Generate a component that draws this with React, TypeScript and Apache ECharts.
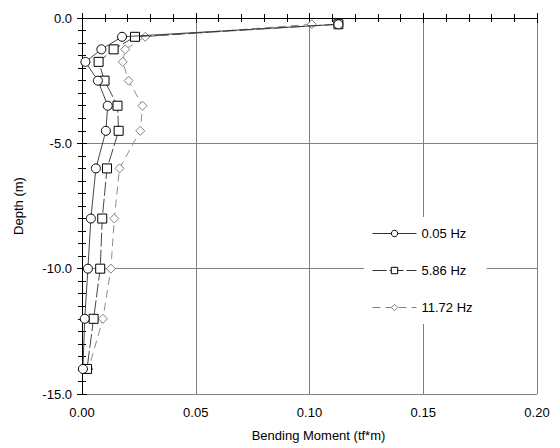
import React, { useEffect, useRef } from "react";
import * as echarts from "echarts";

const depths = [-0.25, -0.75, -1.25, -1.75, -2.5, -3.5, -4.5, -6, -8, -10, -12, -14];
const seriesNames = ["0.05 Hz", "5.86 Hz", "11.72 Hz"];
const moment005 = [0.1127, 0.0176, 0.0085, 0.0015, 0.007, 0.0113, 0.0105, 0.0061, 0.0039, 0.0026, 0.0012, 0.0004];
const moment586 = [0.1127, 0.0233, 0.0139, 0.0073, 0.0099, 0.0156, 0.0161, 0.011, 0.0089, 0.008, 0.0051, 0.0022];
const moment1172 = [0.101, 0.0278, 0.019, 0.0179, 0.0205, 0.0266, 0.0256, 0.0165, 0.0142, 0.0127, 0.0092, 0.0029];

const FONT = "Liberation Sans, Arial, sans-serif";

export default function App() {
  const ref = useRef<HTMLDivElement>(null);
  useEffect(() => {
    if (!ref.current) return;
    const chart = echarts.init(ref.current, null, { renderer: "svg" });
    const pair = (xs: number[]) => xs.map((x, i) => [x, depths[i]]);
    const axisLine = { show: true, lineStyle: { color: "#000", width: 1 } };
    const axisTick = { show: true, inside: true, length: 5, lineStyle: { color: "#000" } };
    const minor = (n: number) => ({ show: true, splitNumber: n, length: -4, lineStyle: { color: "#000" } });
    chart.setOption({
      animation: false,
      backgroundColor: "#fff",
      textStyle: { fontFamily: FONT },
      grid: { left: 82, right: 23, top: 18, bottom: 54, containLabel: false, outerBoundsMode: "none" },
      legend: {
        orient: "vertical",
        left: 364,
        top: 217,
        itemWidth: 44,
        itemHeight: 8,
        itemGap: 24,
        padding: [10, 14, 10, 8],
        backgroundColor: "#fff",
        lineStyle: { width: 1 },
        itemStyle: { borderWidth: 1 },
        textStyle: { fontSize: 13, color: "#000", fontFamily: FONT },
        data: seriesNames,
      },
      xAxis: [
        {
          type: "value",
          min: 0,
          max: 0.2,
          interval: 0.05,
          position: "bottom",
          name: "Bending Moment (tf*m)",
          nameLocation: "middle",
          nameGap: 35,
          nameTextStyle: { fontSize: 13, color: "#000", fontFamily: FONT, padding: [0, 0, 0, 18] },
          axisLabel: { fontSize: 13, color: "#000", margin: 12, formatter: (v: number) => v.toFixed(2) },
          minorTick: minor(5),
          axisLine,
          axisTick,
          splitLine: { show: true, lineStyle: { color: "#808080", width: 1 } },
        },
        {
          type: "value",
          min: 0,
          max: 0.2,
          interval: 0.05,
          position: "top",
          axisLabel: { show: false },
          minorTick: minor(5),
          axisLine,
          axisTick,
          splitLine: { show: false },
        },
      ],
      yAxis: [
        {
          type: "value",
          min: -15,
          max: 0,
          interval: 5,
          position: "left",
          name: "Depth (m)",
          nameLocation: "middle",
          nameGap: 57,
          nameRotate: 90,
          nameTextStyle: { fontSize: 13, color: "#000", fontFamily: FONT },
          axisLabel: { fontSize: 13, color: "#000", margin: 10, formatter: (v: number) => v.toFixed(1) },
          minorTick: minor(10),
          axisLine,
          axisTick,
          splitLine: { show: true, lineStyle: { color: "#808080", width: 1 } },
        },
        {
          type: "value",
          min: -15,
          max: 0,
          interval: 5,
          position: "right",
          axisLabel: { show: false },
          minorTick: minor(10),
          axisLine,
          axisTick,
          splitLine: { show: false },
        },
      ],
      series: [
        {
          name: seriesNames[0],
          type: "line",
          data: pair(moment005),
          symbol: "circle",
          symbolSize: 9,
          lineStyle: { color: "#333", width: 0.9, type: "solid" },
          itemStyle: { color: "#fff", borderColor: "#000", borderWidth: 1 },
          z: 5,
        },
        {
          name: seriesNames[1],
          type: "line",
          data: pair(moment586),
          symbol: "rect",
          symbolSize: 9,
          lineStyle: { color: "#333", width: 0.9, type: [14, 3] },
          itemStyle: { color: "#fff", borderColor: "#000", borderWidth: 1 },
          z: 4,
        },
        {
          name: seriesNames[2],
          type: "line",
          data: pair(moment1172),
          symbol: "diamond",
          symbolSize: 9,
          lineStyle: { color: "#808080", width: 0.9, type: [8, 5] },
          itemStyle: { color: "#fff", borderColor: "#808080", borderWidth: 1 },
          z: 3,
        },
      ],
    });
    return () => chart.dispose();
  }, []);
  return <div ref={ref} style={{ position: "fixed", left: 0, top: 0, width: 560, height: 448 }} />;
}
